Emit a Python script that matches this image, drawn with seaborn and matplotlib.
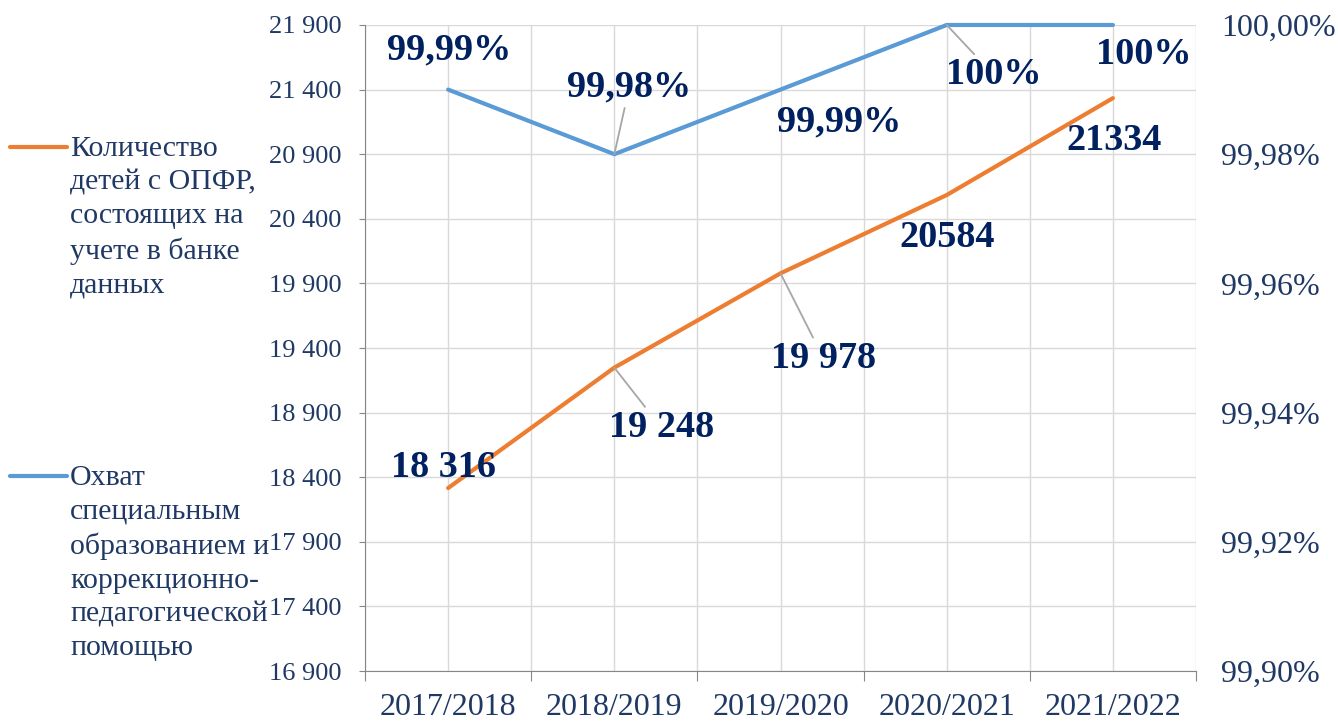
import pandas as pd
import numpy as np
import matplotlib
matplotlib.use("Agg")
import matplotlib.pyplot as plt
import matplotlib.ticker as ticker
from matplotlib.lines import Line2D
import seaborn as sns

years = ["2017/2018", "2018/2019", "2019/2020", "2020/2021", "2021/2022"]
children = [18316, 19248, 19978, 20584, 21334]
coverage = [99.99, 99.98, 99.99, 100.00, 100.00]
children_labels = ["18 316", "19 248", "19 978", "20584", "21334"]
coverage_labels = ["99,99%", "99,98%", "99,99%", "100%", "100%"]
legend_children = "Количество\nдетей с ОПФР,\nсостоящих на\nучете в банке\nданных"
legend_coverage = "Охват\nспециальным\nобразованием и\nкоррекционно-\nпедагогической\nпомощью"

ORANGE = "#ED7D31"
BLUE = "#5B9BD5"
NAVY = "#1F3864"
LABEL = "#002060"
GRID = "#D9D9D9"

sns.set_style("white")
plt.rcParams["font.family"] = ["Liberation Serif", "DejaVu Serif"]

df = pd.DataFrame({"x": np.arange(len(years)), "children": children, "coverage": coverage})

fig = plt.figure(figsize=(13.38, 7.22), dpi=100)
ax = fig.add_axes([0.2728, 0.0706, 0.6211, 0.8948])
ax2 = ax.twinx()

sns.lineplot(data=df, x="x", y="children", color=ORANGE, linewidth=3, ax=ax, legend=False)
sns.lineplot(data=df, x="x", y="coverage", color=BLUE, linewidth=3, ax=ax2, legend=False)
for ln in ax.lines + ax2.lines:
    ln.set_clip_on(False)

# left axis
ax.set_ylim(16900, 21900)
ax.set_yticks(np.arange(16900, 21901, 500))
ax.yaxis.set_major_formatter(ticker.FuncFormatter(lambda v, p: "{:,.0f}".format(v).replace(",", " ")))
ax.tick_params(axis="y", length=4, pad=13, labelsize=19, labelcolor=NAVY, color="#868686", left=True)

# x axis: ticks at category boundaries, labels at centres
ax.set_xlim(-0.5, len(years) - 0.5)
ax.set_xticks(np.arange(-0.5, len(years), 1.0))
ax.set_xticklabels([])
ax.set_xticks(np.arange(len(years)), minor=True)
ax.set_xticklabels(years, minor=True)
ax.tick_params(axis="x", which="major", length=7, color="#868686", bottom=True)
ax.tick_params(axis="x", which="minor", length=0, pad=16, labelsize=23, labelcolor=NAVY)
ax.set_xlabel("")
ax.set_ylabel("")

ax.grid(True, which="both", axis="x", color=GRID, linewidth=1)
ax.grid(True, which="major", axis="y", color=GRID, linewidth=1)
ax.set_axisbelow(True)

# right axis
ax2.set_ylim(99.90, 100.00)
ax2.set_yticks(np.arange(99.90, 100.001, 0.02))
ax2.yaxis.set_major_formatter(ticker.FuncFormatter(lambda v, p: "{:.2f}%".format(v).replace(".", ",")))
ax2.tick_params(axis="y", length=0, pad=18, labelsize=23, labelcolor=NAVY)
ax2.set_ylabel("")
ax2.grid(False)

for a in (ax, ax2):
    for s in ("top", "right", "left", "bottom"):
        a.spines[s].set_visible(False)
ax.spines["left"].set_visible(True)
ax.spines["bottom"].set_visible(True)
ax.spines["left"].set_color("#868686")
ax.spines["bottom"].set_color("#868686")

# data labels (offsets in pixels), with leader lines where Excel moved them
cov_offsets = [(1, 40), (15, 67), (59, -32), (47, -50), (31, -30)]
cov_leader = [False, True, False, True, False]
ch_offsets = [(-5, 21), (47, -60), (43, -85), (0, -42), (1, -42)]
ch_leader = [False, True, True, False, False]

def put_labels(axis, values, texts, offsets, leaders):
    for i, (v, t, off, lead) in enumerate(zip(values, texts, offsets, leaders)):
        arrow = dict(arrowstyle="-", color="#A6A6A6", lw=1.3, shrinkA=0, shrinkB=0) if lead else None
        axis.annotate(t, xy=(i, v), xytext=off, textcoords="offset pixels",
                      ha="center", va="center", fontsize=27.5, fontweight="bold",
                      color=LABEL, arrowprops=arrow, annotation_clip=False)

put_labels(ax2, coverage, coverage_labels, cov_offsets, cov_leader)
put_labels(ax, children, children_labels, ch_offsets, ch_leader)

# legend drawn at left of the figure
W, H = 1338, 722
for color, text, yline in [(ORANGE, legend_children, 147), (BLUE, legend_coverage, 476)]:
    fig.add_artist(Line2D([10 / W, 67 / W], [1 - yline / H, 1 - yline / H], color=color, linewidth=3,
                          transform=fig.transFigure))
    fig.text(70 / W, 1 - (yline - 11) / H, text, ha="left", va="top", fontsize=21.5,
             color=NAVY, linespacing=1.38)

fig.savefig("out.png", dpi=100)
